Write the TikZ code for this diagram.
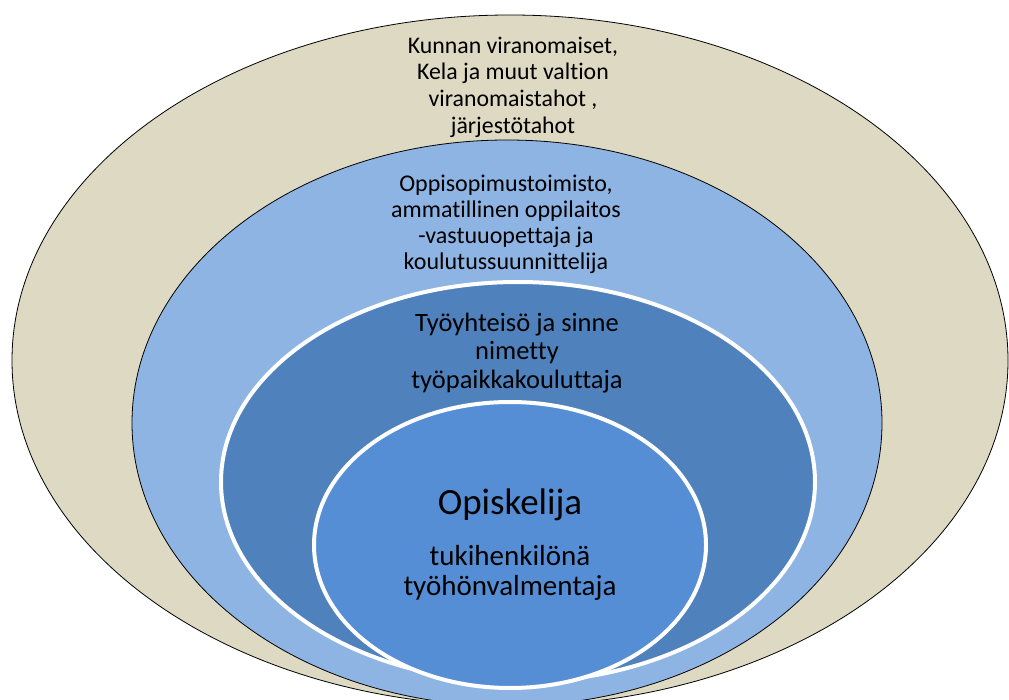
\documentclass[tikz,border=0pt]{standalone}
\usepackage{fontspec}
\setmainfont[Ligatures=NoCommon]{Carlito}
\usetikzlibrary{calc}

\definecolor{tanfill}{HTML}{DDD9C3}
\definecolor{paleblue}{HTML}{8EB4E3}
\definecolor{midblue}{HTML}{4F81BD}
\definecolor{coreblue}{HTML}{558ED5}

\begin{document}
\begin{tikzpicture}[x=1pt,y=-1pt,
  edgering/.style={fill=#1,draw=black,line width=0.8pt},
  whitering/.style={fill=#1,draw=white,line width=4pt},
  ringtext/.style={align=center,inner sep=0pt,font=\fontsize{23.8}{26.7}\selectfont}]

\useasboundingbox (0,0) rectangle (1009,700);

\draw[edgering=tanfill] (510,360.5) ellipse [x radius=498pt, y radius=345.5pt];
\draw[edgering=paleblue] (507,423) ellipse [x radius=375pt, y radius=283pt];
\draw[whitering=midblue] (518,482) ellipse [x radius=297pt, y radius=200pt];
\draw[whitering=coreblue] (510,545) ellipse [x radius=196pt, y radius=143pt];

\node[ringtext] (viranomaiset) at (513,87) {Kunnan viranomaiset,\\Kela ja muut valtion\\viranomaistahot ,\\järjestötahot};
\node[ringtext,font=\fontsize{24}{26}\selectfont] (oppilaitos) at (506,224.5) {Oppisopimustoimisto,\\ammatillinen oppilaitos\\-vastuuopettaja ja\\koulutussuunnittelija};
\node[ringtext,font=\fontsize{26.5}{28.5}\selectfont] (tyoyhteiso) at (517,353) {Työyhteisö ja sinne\\nimetty\\työpaikkakouluttaja};

\node[ringtext,font=\fontsize{37}{40}\selectfont] (opiskelija) at (510,505) {Opiskelija};
\node[ringtext,font=\fontsize{29}{30}\selectfont] (valmentaja) at (510,573) {tukihenkilönä\\työhönvalmentaja};

\end{tikzpicture}
\end{document}
